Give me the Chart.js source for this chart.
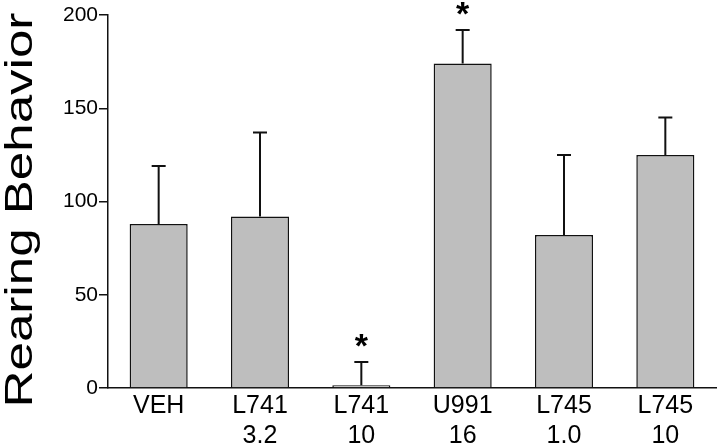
<!DOCTYPE html>
<html>
<head>
<meta charset="utf-8">
<script src="https://cdn.jsdelivr.net/npm/chart.js@4.4.0/dist/chart.umd.min.js"></script>
<style>
  html, body { margin: 0; padding: 0; background: #fff; }
  #wrap { width: 720px; height: 447px; }
</style>
</head>
<body>
<div id="wrap"><canvas id="rearingChart" width="720" height="447"></canvas></div>
<script>
// ===================================
// DATA
// ===================================
const drugs = ['VEH', 'L741', 'L741', 'U991', 'L745', 'L745'];
const doses = ['', '3.2', '10', '16', '1.0', '10'];
const means = [88, 92, 1.5, 174, 82, 125];
const sems = [31, 45, 12.5, 18, 43, 20];
const significant = [false, false, true, true, false, false];
const yTicks = [0, 50, 100, 150, 200];

const FONT = "'Liberation Sans', Arial, sans-serif";

// ===================================
// PLUGINS: error bars, asterisks, y title
// ===================================
const errorBars = {
    id: 'errorBars',
    afterDatasetsDraw(chart) {
        const ctx = chart.ctx;
        const y = chart.scales.y;
        const meta = chart.getDatasetMeta(0);
        ctx.save();
        ctx.strokeStyle = '#111';
        ctx.lineWidth = 2;
        meta.data.forEach((bar, i) => {
            const top = y.getPixelForValue(means[i] + sems[i]);
            const base = y.getPixelForValue(means[i]);
            ctx.beginPath();
            ctx.moveTo(bar.x, base);
            ctx.lineTo(bar.x, top);
            ctx.moveTo(bar.x - 7, top);
            ctx.lineTo(bar.x + 7, top);
            ctx.stroke();
            // significance marker
            if (significant[i]) {
                ctx.fillStyle = '#000';
                ctx.font = 'bold 34px ' + FONT;
                ctx.textAlign = 'center';
                ctx.textBaseline = 'middle';
                ctx.fillText('*', bar.x, top - 14);
            }
        });
        ctx.restore();
    }
};

const yTitle = {
    id: 'yTitle',
    afterDraw(chart) {
        const ctx = chart.ctx;
        ctx.save();
        ctx.translate(32, 210);
        ctx.rotate(-Math.PI / 2);
        ctx.scale(1.31, 1);
        ctx.fillStyle = '#000';
        ctx.font = '39px ' + FONT;
        ctx.textAlign = 'center';
        ctx.textBaseline = 'alphabetic';
        ctx.fillText('Rearing Behavior', 0, 0);
        ctx.restore();
    }
};

// ===================================
// CHART
// ===================================
new Chart(document.getElementById('rearingChart'), {
    type: 'bar',
    data: {
        labels: drugs.map((d, i) => [d, doses[i]]),
        datasets: [{
            data: means,
            backgroundColor: '#bebebe',
            borderColor: '#111',
            borderWidth: 1.5,
            categoryPercentage: 1,
            barPercentage: 0.573
        }]
    },
    options: {
        responsive: false,
        animation: false,
        layout: { padding: { top: 15, right: 4, left: 0, bottom: 0 } },
        plugins: {
            legend: { display: false },
            tooltip: { enabled: false }
        },
        scales: {
            x: {
                offset: true,
                grid: { display: false, drawTicks: false, tickLength: 0 },
                border: { display: true, color: '#111', width: 1.5 },
                ticks: {
                    color: '#000',
                    maxRotation: 0,
                    padding: 3,
                    font: { family: FONT, size: 25, lineHeight: 1.2 }
                },
                afterFit(scale) { scale.height = 59; }
            },
            y: {
                min: 0,
                max: 200,
                afterBuildTicks(scale) {
                    scale.ticks = yTicks.map(v => ({ value: v }));
                },
                grid: { drawOnChartArea: false, drawTicks: true, tickLength: 9, color: '#111', lineWidth: 1.5 },
                border: { display: true, color: '#111', width: 1.5 },
                ticks: {
                    color: '#000',
                    padding: 1,
                    font: { family: FONT, size: 21 }
                },
                afterFit(scale) { scale.width = 108; }
            }
        }
    },
    plugins: [errorBars, yTitle]
});
</script>
</body>
</html>
